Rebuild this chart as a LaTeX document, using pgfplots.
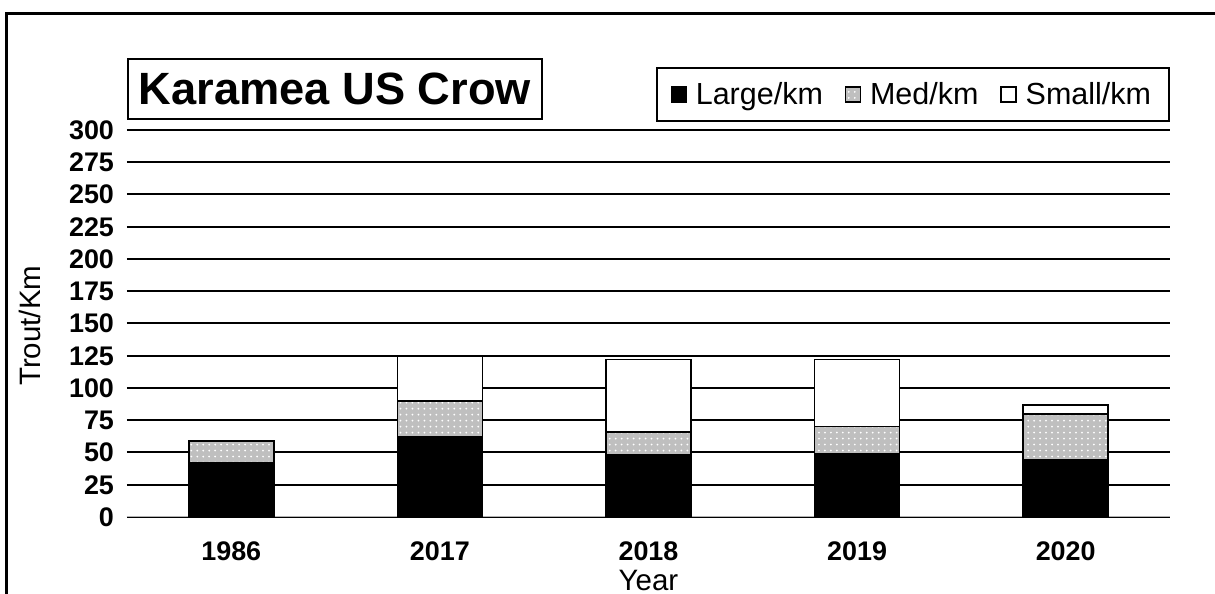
\documentclass[border=0pt]{standalone}
\usepackage{pgfplots}
\pgfplotsset{compat=1.18}
\usepackage{fontspec}
\setmainfont{Liberation Sans}
\usetikzlibrary{patterns}
\definecolor{medgray}{HTML}{BFBFBF}
\pgfplotstableread{
x Large Med Small
0 42 17 0
1 62 28 35
2 48 18 56
3 49 21 52
4 44 36 7
}\datatable
\begin{document}
\begin{tikzpicture}
\useasboundingbox (-63.5bp,-38.5bp) rectangle (544bp,258.5bp);
\draw[line width=1.5bp] (-60bp,-38.5bp) -- (-60bp,251.5bp) -- (544bp,251.5bp);
\begin{axis}[
  at={(0,0)}, anchor=south west,
  scale only axis, width=521.5bp, height=193.5bp,
  ybar stacked, bar width=42.5bp,
  xmin=-0.5, xmax=4.5, ymin=0, ymax=300,
  xtick=data, xticklabels={1986,2017,2018,2019,2020},
  ytick={0,25,...,300},
  major tick length=0pt,
  ymajorgrids, grid style={black, line width=1bp},
  axis line style={black, line width=1bp},
  x axis line style={draw=none},
  /pgf/number format/assume math mode=true,
  tick label style={font=\bfseries\fontsize{13.5}{16}\selectfont},
  xticklabel style={anchor=center, yshift=-17bp},
  yticklabel style={anchor=east, xshift=-3bp},
  xlabel={Year}, ylabel={Trout/Km},
  every axis x label/.style={at={(axis description cs:0.5,-0.163)}, anchor=center, font=\fontsize{14.8}{17}\selectfont},
  every axis y label/.style={at={(axis description cs:-0.093,0.494)}, anchor=center, rotate=90, font=\fontsize{14.8}{17}\selectfont},
  legend columns=3,
  legend style={at={(1,1)}, anchor=south east, yshift=4bp, draw=black, line width=1bp,
    font=\fontsize{15.3}{18}\selectfont, inner xsep=7bp, inner ysep=5bp,
    /tikz/every odd column/.append style={column sep=2.5bp},
    /tikz/every even column/.append style={column sep=9bp}},
  legend cell align=left,
]
\addplot[fill=black, draw=black, line width=0.8bp,
  legend image code/.code={\draw[fill=black, draw=black, line width=0.6bp] (0bp,-3.75bp) rectangle (7.5bp,3.75bp);}]
  table[x=x, y=Large] {\datatable};
\addplot[fill=medgray, draw=black, line width=0.8bp, postaction={pattern=dots, pattern color=white},
  legend image code/.code={\draw[fill=medgray, draw=black, line width=0.6bp] (0bp,-3.75bp) rectangle (7.5bp,3.75bp);}]
  table[x=x, y=Med] {\datatable};
\addplot[fill=white, draw=black, line width=0.8bp,
  legend image code/.code={\draw[fill=white, draw=black, line width=0.6bp] (0bp,-3.75bp) rectangle (7.5bp,3.75bp);}]
  table[x=x, y=Small] {\datatable};
\legend{Large/km, Med/km, Small/km}
\draw[gray!60, line width=1.2bp] (rel axis cs:0,0) -- (rel axis cs:1,0);
\end{axis}
\node[draw, line width=1bp, minimum width=207bp, minimum height=30bp, inner sep=0pt,
  anchor=south west, font=\bfseries\fontsize{22.7}{27}\selectfont] at (0bp,198.5bp) {Karamea US Crow};
\end{tikzpicture}
\end{document}
